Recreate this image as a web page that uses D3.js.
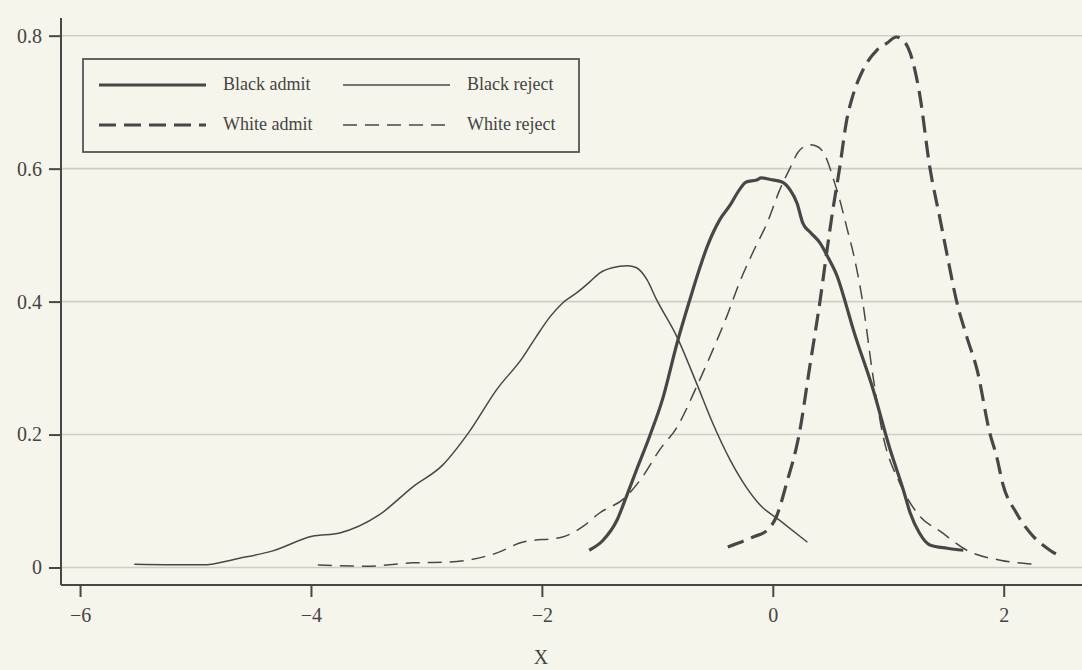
<!DOCTYPE html>
<html>
<head>
<meta charset="utf-8">
<script src="https://cdn.jsdelivr.net/npm/d3@7"></script>
<style>
  html, body { margin: 0; padding: 0; background: #f6f5ec; }
  svg { display: block; }
  text { font-family: "Liberation Serif", "DejaVu Serif", serif; fill: #444; }
</style>
</head>
<body>
<svg id="chart" width="1082" height="670"></svg>
<script>
// ---- data ----
const blackRejectX = [-5.53,-4.94,-4.62,-4.33,-3.99,-3.75,-3.41,-3.12,-2.86,-2.63,-2.39,-2.17,-2.05,-1.93,-1.82,-1.70,-1.59,-1.50,-1.39,-1.26,-1.18,-1.09,-1.01,-0.83,-0.66,-0.52,-0.37,-0.23,-0.11,0.06,0.30];
const blackRejectY = [0.005,0.004,0.014,0.025,0.047,0.052,0.079,0.121,0.154,0.204,0.268,0.315,0.347,0.377,0.398,0.413,0.429,0.443,0.451,0.454,0.451,0.433,0.404,0.347,0.277,0.217,0.162,0.121,0.094,0.071,0.038];

const blackAdmitX = [-1.59,-1.47,-1.35,-1.27,-1.18,-1.07,-0.95,-0.83,-0.72,-0.63,-0.57,-0.46,-0.37,-0.29,-0.23,-0.14,-0.10,0.00,0.08,0.15,0.21,0.26,0.32,0.41,0.48,0.56,0.64,0.69,0.87,1.01,1.13,1.19,1.27,1.36,1.51,1.65];
const blackAdmitY = [0.026,0.041,0.071,0.106,0.147,0.196,0.256,0.337,0.402,0.452,0.482,0.523,0.545,0.568,0.580,0.583,0.586,0.583,0.580,0.568,0.548,0.518,0.505,0.488,0.466,0.437,0.392,0.362,0.267,0.181,0.117,0.082,0.052,0.034,0.029,0.026];

const whiteRejectX = [-3.94,-3.52,-3.12,-2.83,-2.39,-2.17,-1.82,-1.65,-1.50,-1.28,-1.13,-0.98,-0.83,-0.66,-0.52,-0.40,-0.29,-0.17,-0.05,0.06,0.15,0.22,0.32,0.39,0.47,0.52,0.58,0.64,0.71,0.78,0.86,0.95,1.10,1.25,1.47,1.68,1.97,2.25];
const whiteRejectY = [0.004,0.002,0.007,0.008,0.022,0.038,0.046,0.061,0.082,0.105,0.136,0.177,0.211,0.272,0.327,0.377,0.428,0.475,0.518,0.568,0.601,0.625,0.636,0.633,0.613,0.587,0.553,0.512,0.463,0.398,0.297,0.202,0.127,0.082,0.052,0.026,0.011,0.005];

const whiteAdmitX = [-0.39,-0.17,-0.05,0.03,0.12,0.23,0.32,0.41,0.47,0.52,0.58,0.64,0.69,0.78,0.90,0.99,1.07,1.14,1.19,1.27,1.36,1.45,1.51,1.59,1.68,1.77,1.88,1.94,1.99,2.11,2.23,2.40,2.50];
const whiteAdmitY = [0.031,0.046,0.056,0.076,0.127,0.202,0.302,0.402,0.478,0.538,0.602,0.673,0.708,0.748,0.778,0.789,0.798,0.791,0.774,0.714,0.602,0.523,0.470,0.402,0.347,0.297,0.202,0.166,0.127,0.082,0.052,0.026,0.016];

const yTickValues = [0, 0.2, 0.4, 0.6, 0.8];
const yTickLabels = ["0", "0.2", "0.4", "0.6", "0.8"];
const xTickValues = [-6, -4, -2, 0, 2];
const xTickLabels = ["\u22126", "\u22124", "\u22122", "0", "2"];
const legendLabels = ["Black admit", "Black reject", "White admit", "White reject"];
const xTitle = "X";

// ---- layout ----
const svg = d3.select("#chart");
const mLeft = 61, mRight = 1082, mTop = 18, mBottom = 585;

const x = d3.scaleLinear().domain([-6.165, 2.678]).range([mLeft, mRight]);
const y = d3.scaleLinear().domain([-0.0263, 0.8266]).range([mBottom, mTop]);

const ink = "#474747";
const gridCol = "#cfcec4";

// gridlines
svg.append("g").selectAll("line").data(yTickValues).join("line")
  .attr("x1", mLeft).attr("x2", mRight)
  .attr("y1", d => y(d)).attr("y2", d => y(d))
  .attr("stroke", gridCol).attr("stroke-width", 1.6);

// y axis
const yAxis = d3.axisLeft(y).tickValues(yTickValues)
  .tickFormat((d, i) => yTickLabels[i]).tickSize(12).tickPadding(7);
const gy = svg.append("g").attr("transform", `translate(${mLeft},0)`).call(yAxis);
gy.select(".domain").attr("d", `M0,${mTop}V${mBottom}`).attr("stroke", ink).attr("stroke-width", 2);
gy.selectAll(".tick line").attr("stroke", ink).attr("stroke-width", 2);
gy.selectAll(".tick text").attr("font-size", 20).attr("fill", "#444")
  .attr("font-family", "Liberation Serif, serif");

// x axis
const xAxis = d3.axisBottom(x).tickValues(xTickValues)
  .tickFormat((d, i) => xTickLabels[i]).tickSize(12).tickPadding(11);
const gx = svg.append("g").attr("transform", `translate(0,${mBottom})`).call(xAxis);
gx.select(".domain").attr("d", `M${mLeft},0H${mRight}`).attr("stroke", ink).attr("stroke-width", 2);
gx.selectAll(".tick line").attr("stroke", ink).attr("stroke-width", 2);
gx.selectAll(".tick text").attr("font-size", 20).attr("fill", "#444")
  .attr("font-family", "Liberation Serif, serif");

svg.append("text").attr("x", 541).attr("y", 664).attr("text-anchor", "middle")
  .attr("font-size", 20).text(xTitle);

// series
const series = [
  { xs: blackAdmitX, ys: blackAdmitY, w: 3.2, dash: null },
  { xs: blackRejectX, ys: blackRejectY, w: 1.5, dash: null },
  { xs: whiteAdmitX, ys: whiteAdmitY, w: 3.2, dash: "17,8" },
  { xs: whiteRejectX, ys: whiteRejectY, w: 1.5, dash: "14,8" }
];
const line = d3.line().x(d => x(d[0])).y(d => y(d[1])).curve(d3.curveMonotoneX);
series.forEach(s => {
  const pts = s.xs.map((v, i) => [v, s.ys[i]]);
  svg.append("path").datum(pts).attr("d", line)
    .attr("fill", "none").attr("stroke", ink).attr("stroke-width", s.w)
    .attr("stroke-dasharray", s.dash).attr("stroke-linejoin", "round");
});

// legend
const lg = svg.append("g");
lg.append("rect").attr("x", 83).attr("y", 59).attr("width", 496).attr("height", 93)
  .attr("fill", "none").attr("stroke", "#555").attr("stroke-width", 1.8);
const colX = [99, 343], rowY = [85, 125];
series.forEach((s, i) => {
  const cx = colX[i % 2], cy = rowY[Math.floor(i / 2)];
  lg.append("line").attr("x1", cx).attr("x2", cx + 107).attr("y1", cy).attr("y2", cy)
    .attr("stroke", ink).attr("stroke-width", s.w).attr("stroke-dasharray", s.dash);
  lg.append("text").attr("x", cx + 124).attr("y", cy + 5).attr("font-size", 18)
    .text(legendLabels[i]);
});
</script>
</body>
</html>
